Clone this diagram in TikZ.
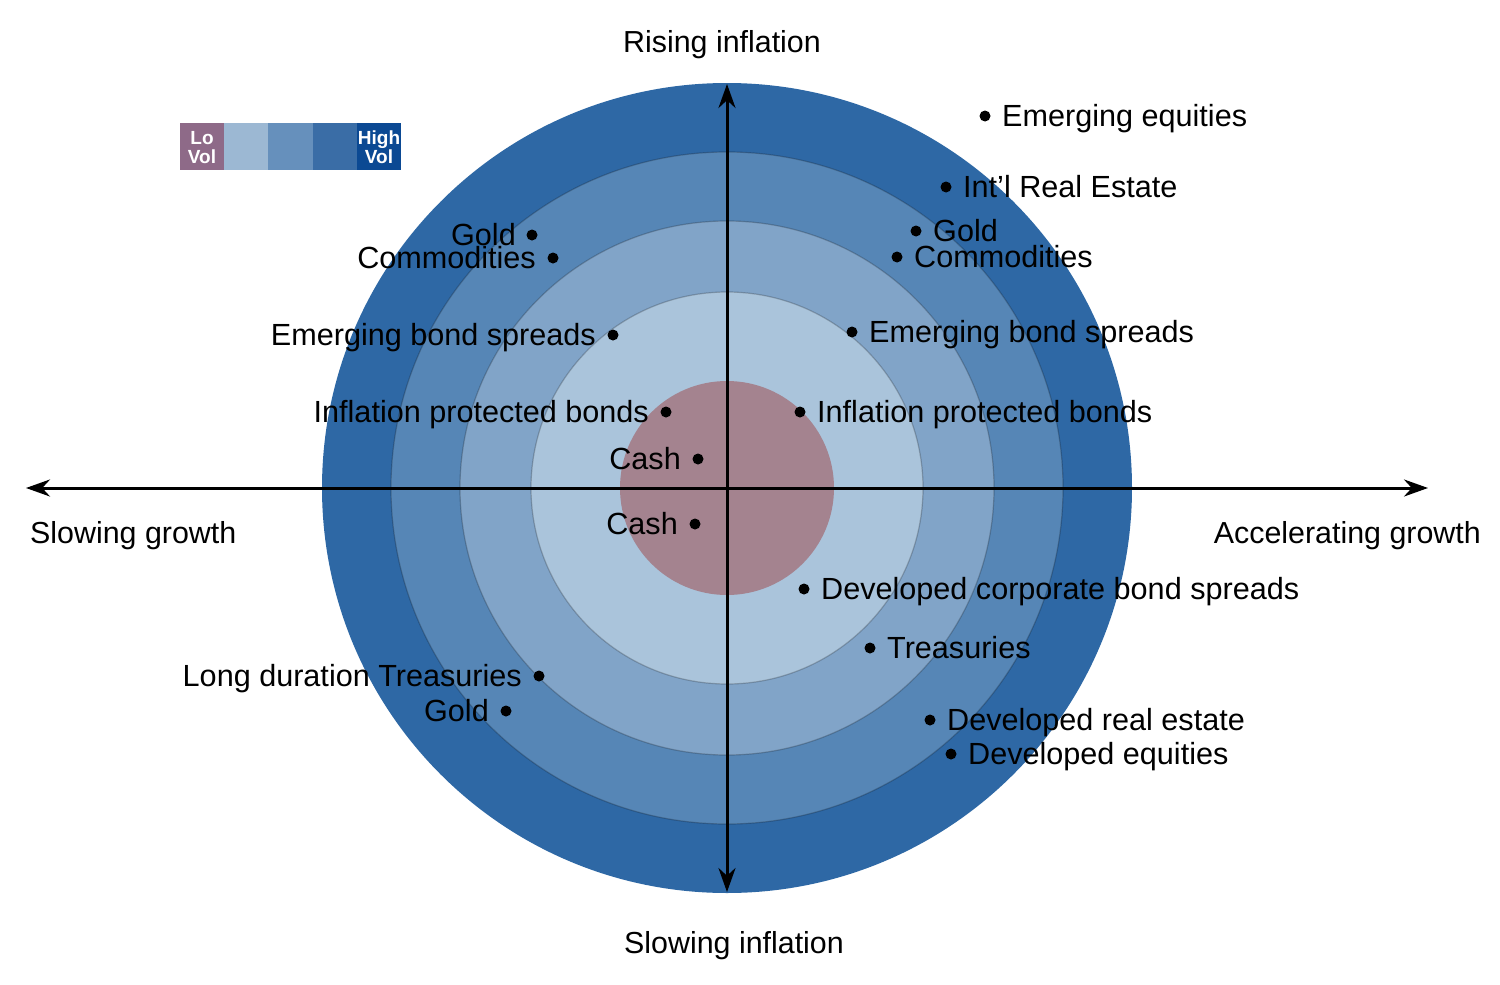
\documentclass[tikz,border=0pt]{standalone}
\usepackage{fontspec}
\setmainfont{Liberation Sans}
\usetikzlibrary{arrows.meta}
\definecolor{ringA}{HTML}{2E68A5}
\definecolor{ringB}{HTML}{5686B6}
\definecolor{ringC}{HTML}{81A4C8}
\definecolor{ringD}{HTML}{AAC4DB}
\definecolor{core}{HTML}{A4838F}
\definecolor{legA}{HTML}{8E6A88}
\definecolor{legB}{HTML}{9CB8D3}
\definecolor{legC}{HTML}{6690BC}
\definecolor{legD}{HTML}{3A6DA6}
\definecolor{legE}{HTML}{0B4993}
\begin{document}
\begin{tikzpicture}[x=1pt,y=-1pt,
  lbl/.style={font=\fontsize{30.6}{36}\selectfont, inner sep=0pt, text=black},
  axlbl/.style={font=\fontsize{30.4}{36}\selectfont, inner sep=0pt, text=black},
  dot/.style={circle, fill=black, inner sep=0pt, minimum size=11pt},
  ring/.style={draw=black, draw opacity=0.22, line width=1.2pt},
  axis/.style={line width=3pt, {Stealth[length=24pt,width=17pt]}-{Stealth[length=24pt,width=17pt]}},
  legtxt/.style={font=\bfseries\fontsize{19}{19}\selectfont, text=white, align=center, inner sep=0pt}]
\useasboundingbox (0,0) rectangle (1500,985);
\fill[white] (0,0) rectangle (1500,985);
\coordinate (O) at (727,488);
% rings
\fill[ringA] (O) circle[radius=405pt];
\filldraw[ringB, ring] (O) circle[radius=336pt];
\filldraw[ringC, ring] (O) circle[radius=267pt];
\filldraw[ringD, ring] (O) circle[radius=196pt];
\fill[core] (O) circle[radius=107pt];
% axes
\coordinate (W) at (26,488);
\coordinate (E) at (1428,488);
\coordinate (N) at (727,84);
\coordinate (S) at (727,892);
\draw[axis] (W) -- (E);
\draw[axis] (S) -- (N);
% axis labels
\node[axlbl, anchor=base] (rise) at (722,52) {Rising inflation};
\node[axlbl, anchor=base] (slowi) at (734,953) {Slowing inflation};
\node[axlbl, anchor=base west] (slowg) at (30,543) {Slowing growth};
\node[axlbl, anchor=base east] (accg) at (1481,543) {Accelerating growth};
% legend
\fill[legA] (180,123) rectangle (224.2,170);
\fill[legB] (224.2,123) rectangle (268.4,170);
\fill[legC] (268.4,123) rectangle (312.6,170);
\fill[legD] (312.6,123) rectangle (356.8,170);
\fill[legE] (356.8,123) rectangle (401,170);
\node[legtxt] (lo) at (202,147.5) {Lo\\Vol};
\node[legtxt] (hi) at (379,147.5) {High\\Vol};
% left labels
\node[dot] (d1) at (532,235) {};
\node[lbl, anchor=base east] (t1) at (516,245) {Gold};
\node[dot] (d2) at (553,258) {};
\node[lbl, anchor=base east] (t2) at (536,268) {Commodities};
\node[dot] (d3) at (613,335) {};
\node[lbl, anchor=base east] (t3) at (596,345) {Emerging bond spreads};
\node[dot] (d4) at (666,412) {};
\node[lbl, anchor=base east] (t4) at (649,422) {Inflation protected bonds};
\node[dot] (d5) at (698,459) {};
\node[lbl, anchor=base east] (t5) at (681,469) {Cash};
\node[dot] (d6) at (695,524) {};
\node[lbl, anchor=base east] (t6) at (678,534) {Cash};
\node[dot] (d7) at (539,676) {};
\node[lbl, anchor=base east] (t7) at (522,686) {Long duration Treasuries};
\node[dot] (d8) at (506,711) {};
\node[lbl, anchor=base east] (t8) at (489,721) {Gold};
% right labels
\node[dot] (d9) at (985,116) {};
\node[lbl, anchor=base west] (t9) at (1002,126) {Emerging equities};
\node[dot] (d10) at (946,187) {};
\node[lbl, anchor=base west] (t10) at (963,197) {Int’l Real Estate};
\node[dot] (d11) at (916,231) {};
\node[lbl, anchor=base west] (t11) at (933,241) {Gold};
\node[dot] (d12) at (897,257) {};
\node[lbl, anchor=base west] (t12) at (914,267) {Commodities};
\node[dot] (d13) at (852,332) {};
\node[lbl, anchor=base west] (t13) at (869,342) {Emerging bond spreads};
\node[dot] (d14) at (800,412) {};
\node[lbl, anchor=base west] (t14) at (817,422) {Inflation protected bonds};
\node[dot] (d15) at (804,589) {};
\node[lbl, anchor=base west] (t15) at (821,599) {Developed corporate bond spreads};
\node[dot] (d16) at (870,648) {};
\node[lbl, anchor=base west] (t16) at (887,658) {Treasuries};
\node[dot] (d17) at (930,720) {};
\node[lbl, anchor=base west] (t17) at (947,730) {Developed real estate};
\node[dot] (d18) at (951,754) {};
\node[lbl, anchor=base west] (t18) at (968,764) {Developed equities};
\end{tikzpicture}
\end{document}
